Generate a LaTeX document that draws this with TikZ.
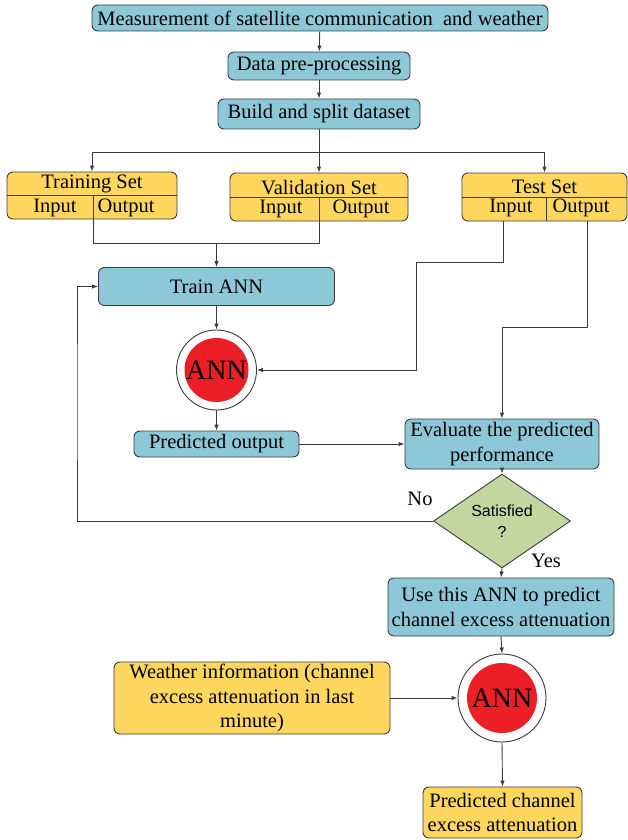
\documentclass[tikz,border=0pt]{standalone}
\usepackage{fontspec}
\setmainfont{Liberation Serif}
\newfontfamily\satfont{Liberation Sans}
\usetikzlibrary{arrows.meta,shapes.geometric}

\definecolor{boxblue}{RGB}{141,200,217}
\definecolor{boxyellow}{RGB}{255,214,94}
\definecolor{annred}{RGB}{236,30,38}
\definecolor{decgreen}{RGB}{196,214,160}
\definecolor{edgegray}{RGB}{60,60,60}

\begin{document}
\begin{tikzpicture}[x=1pt,y=-1pt,line width=0.9pt,
  box/.style={draw=edgegray,fill=boxblue,rounded corners=6pt,inner sep=0pt,align=center,
    font=\fontsize{20.5}{24.5}\selectfont},
  ybox/.style={box,fill=boxyellow},
  txt/.style={inner sep=0pt,font=\fontsize{20.5}{24.5}\selectfont},
  annring/.style={circle,draw=edgegray,fill=white,minimum size=80pt,inner sep=0pt},
  anncore/.style={circle,fill=annred,minimum size=64pt,inner sep=0pt,font=\fontsize{28}{30}\selectfont},
  arr/.style={draw=edgegray,-{Latex[length=6pt,width=4.5pt]}},
  ln/.style={draw=edgegray}]

  \useasboundingbox (0,0) rectangle (628,840);

  % Top chain
  \node[box,minimum width=456pt,minimum height=26pt] (meas) at (320,18) {Measurement of satellite communication\ \ and weather};
  \node[box,minimum width=182pt,minimum height=28pt] (prep) at (319,66) {Data pre-processing};
  \node[box,minimum width=202pt,minimum height=30pt] (split) at (319,114) {Build and split dataset};

  % Data sets
  \node[ybox,minimum width=170pt,minimum height=47pt] (trn) at (92,195.5) {};
  \node[ybox,minimum width=178pt,minimum height=48pt] (val) at (319,197) {};
  \node[ybox,minimum width=165pt,minimum height=48pt] (tst) at (544.5,197) {};
  \draw[ln] (trn.west |- 0,195) -- (trn.east |- 0,195); % divider
  \draw[ln] (val.west |- 0,197) -- (val.east |- 0,197);
  \draw[ln] (tst.west |- 0,197) -- (tst.east |- 0,197);
  \coordinate (trnsplit) at (93,219);
  \coordinate (valsplit) at (319,221);
  \coordinate (tstmid) at (546,221);
  \draw[ln] (trnsplit) -- (93,195);
  \draw[ln] (valsplit) -- (319,197);
  \draw[ln] (tstmid) -- (546,197);
  \node[txt] (trntitle) at (92,184) {Training Set};
  \node[txt] (trnin) at (55,207.5) {Input};
  \node[txt] (trnout) at (126,207.5) {Output};
  \node[txt] (valtitle) at (319,187.5) {Validation Set};
  \node[txt] (valin) at (281,208.5) {Input};
  \node[txt] (valout) at (361,208.5) {Output};
  \node[txt] (tsttitle) at (544.5,186.5) {Test Set};
  \node[txt] (tstinlbl) at (511,207.5) {Input};
  \node[txt] (tstoutlbl) at (581,207.5) {Output};

  % Training loop
  \node[box,minimum width=236pt,minimum height=38pt] (train) at (216.5,286.5) {Train ANN};
  \node[annring] (ann1) at (216.5,370) {};
  \node[anncore] (ann1core) at (216.5,370) {ANN};
  \node[box,minimum width=165pt,minimum height=26pt] (pred) at (216.5,444) {Predicted output};
  \node[box,minimum width=194pt,minimum height=50pt] (eval) at (502,444) {Evaluate the predicted\\performance};
  \node[diamond,draw=edgegray,fill=decgreen,minimum width=137pt,minimum height=64pt,inner sep=0pt,
    align=center,font=\satfont\fontsize{16}{21}\selectfont] (sat) at (502,521) {Satisfied\\?};
  \node[txt] (nolbl) at (420,499) {No};
  \node[txt] (yeslbl) at (546,561) {Yes};

  % Use of the ANN
  \node[box,minimum width=226pt,minimum height=58pt] (use) at (501,607) {Use this ANN to predict\\channel excess attenuation};
  \node[annring,minimum size=88pt] (ann2) at (502,698) {};
  \node[anncore,minimum size=70pt] (ann2core) at (502,698) {ANN};
  \node[ybox,minimum width=276pt,minimum height=72pt] (wthr) at (252,698) {Weather information (channel\\excess attenuation in last\\minute)};
  \node[ybox,minimum width=159pt,minimum height=51pt] (chan) at (502.5,812.5) {Predicted channel\\excess attenuation};

  % Connectors
  \draw[arr] (meas) -- (prep);
  \draw[arr] (prep) -- (split);
  \coordinate (branch) at (319,152);
  \draw[ln] (split.south) -- (branch);
  \draw[arr] (branch) -| (trn.north);
  \draw[arr] (branch) -- (val.north);
  \draw[arr] (branch) -| (tst.north);
  \coordinate (merge) at (216.5,243);
  \draw[ln] (trnsplit) |- (merge);
  \draw[ln] (valsplit) |- (merge);
  \draw[arr] (merge) -- (train.north);
  \coordinate (tstin) at (503,221);
  \coordinate (tstout) at (587,221);
  \coordinate (bendin) at (416,262);
  \coordinate (bendout) at (502,327);
  \draw[arr] (tstin) |- (bendin) |- (ann1.east);
  \draw[arr] (tstout) |- (bendout) -- (eval.north);
  \draw[arr] (train.south) -- (ann1.north);
  \draw[arr] (ann1.south) -- (pred.north);
  \draw[arr] (pred.east) -- (eval.west);
  \draw[arr] (eval.south) -- (sat.north);
  \coordinate (bendno) at (77,400);
  \draw[arr] (sat.west) -| (bendno) |- (train.west); % No loop
  \draw[arr] (sat.south) -- (use.north);
  \draw[arr] (use.south) -- (ann2.north);
  \draw[arr] (wthr.east) -- (ann2.west);
  \draw[arr] (ann2.south) -- (chan.north);

\end{tikzpicture}
\end{document}
